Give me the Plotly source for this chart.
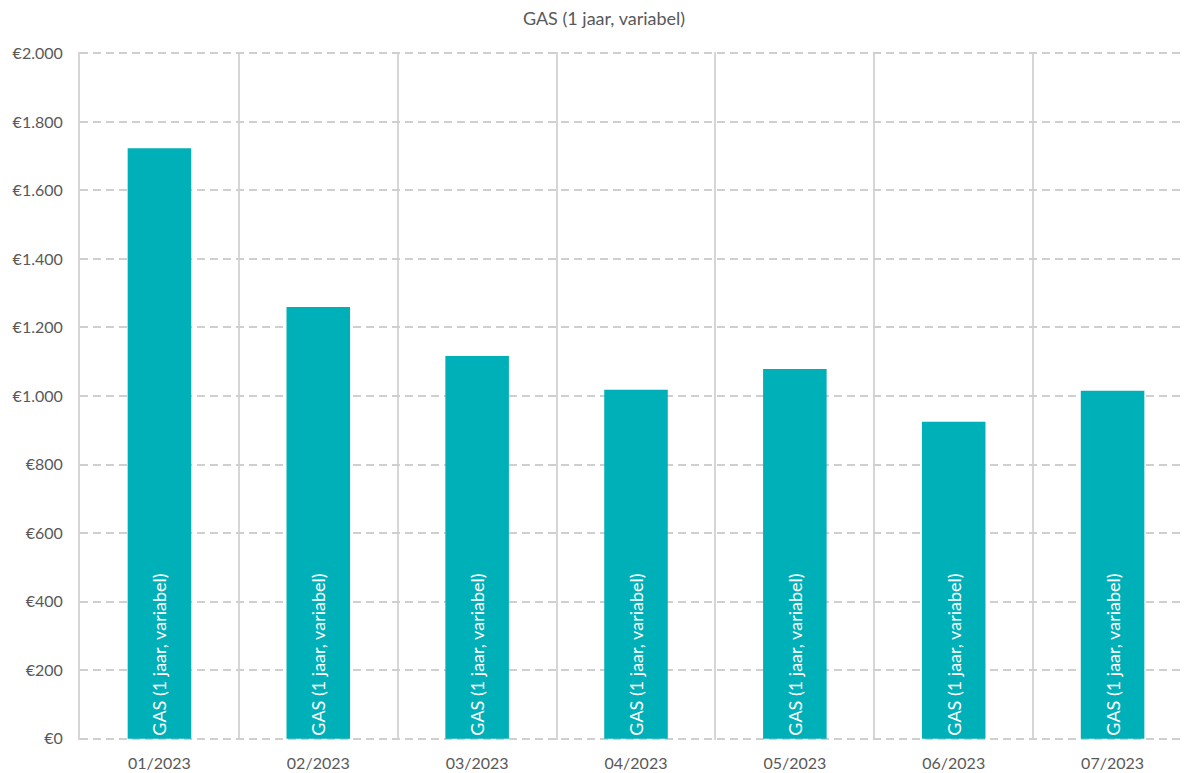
import plotly.graph_objects as go

categories = ["01/2023", "02/2023", "03/2023", "04/2023", "05/2023", "06/2023", "07/2023"]
values = [1723, 1260, 1117, 1018, 1079, 925, 1015]
series_name = "GAS (1 jaar, variabel)"
tick_vals = [0, 200, 400, 600, 800, 1000, 1200, 1400, 1600, 1800, 2000]
tick_text = ["€0", "€200", "€400", "€600", "€800", "€1.000", "€1.200", "€1.400", "€1.600", "€1.800", "€2.000"]

FONT = "Lato, 'Open Sans', sans-serif"
GRAY = "#595959"

fig = go.Figure()
fig.add_trace(go.Bar(
    x=categories,
    y=values,
    name=series_name,
    text=[series_name] * len(categories),
    textposition="inside",
    insidetextanchor="start",
    textangle=-90,
    insidetextfont=dict(color="white", size=18, family=FONT),
    marker=dict(color="#00B0B9", line=dict(width=0)),
    width=0.4,
))

fig.update_layout(
    width=1192, height=773,
    margin=dict(l=72, r=8, t=44, b=41, autoexpand=False),
    paper_bgcolor="white", plot_bgcolor="white",
    title=dict(text="GAS (1 jaar, variabel)", x=0.5, xanchor="center", y=1 - 11 / 773, yanchor="middle",
               font=dict(family=FONT, size=18, color=GRAY)),
    showlegend=False,
    uniformtext=dict(minsize=18, mode="show"),
    font=dict(family=FONT, color=GRAY),
    xaxis=dict(
        type="category",
        tickson="boundaries",
        showgrid=True, gridcolor="#D6D6D6", gridwidth=2,
        ticks="", showline=False,
        ticklabelstandoff=12,
        tickfont=dict(size=16, color=GRAY, family=FONT),
        range=[-0.5, 6.5],
    ),
    yaxis=dict(
        range=[-4, 2004],
        tickvals=tick_vals, ticktext=tick_text,
        showgrid=True, gridcolor="#CFCFCF", gridwidth=1.5, griddash="8px,5px",
        zeroline=False, ticks="",
        showline=True, linecolor="#D6D6D6", linewidth=2, mirror=True,
        ticklabelstandoff=12,
        tickfont=dict(size=16, color=GRAY, family=FONT),
    ),
)

fig.write_html("out.html")
